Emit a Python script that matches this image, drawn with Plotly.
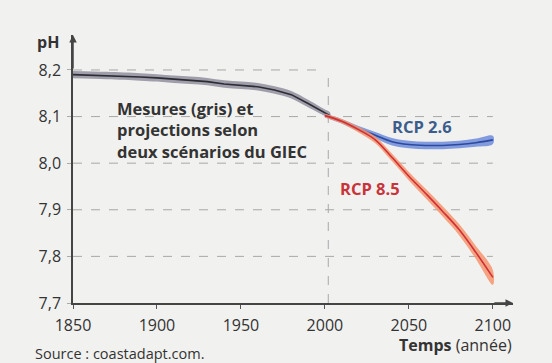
import plotly.graph_objects as go

# ---- data ----
years_obs = [1850, 1870, 1890, 1900, 1910, 1920, 1930, 1940, 1950, 1960, 1970, 1980, 1990, 2000, 2003]
ph_obs = [8.190, 8.188, 8.185, 8.183, 8.180, 8.178, 8.175, 8.170, 8.167, 8.164, 8.157, 8.147, 8.128, 8.108, 8.102]
obs_halfwidth = [0.008, 0.008, 0.008, 0.008, 0.008, 0.008, 0.008, 0.008, 0.008, 0.008, 0.008, 0.008, 0.008, 0.007, 0.007]

years_proj = [2000, 2010, 2020, 2030, 2040, 2050, 2060, 2070, 2080, 2090, 2100]
ph_rcp26 = [8.102, 8.090, 8.074, 8.060, 8.046, 8.040, 8.038, 8.038, 8.040, 8.044, 8.050]
rcp26_halfwidth = [0.004, 0.005, 0.006, 0.007, 0.008, 0.008, 0.008, 0.008, 0.008, 0.009, 0.009]
ph_rcp85 = [8.102, 8.090, 8.072, 8.050, 8.012, 7.972, 7.935, 7.897, 7.857, 7.808, 7.755]
rcp85_halfwidth = [0.004, 0.005, 0.006, 0.007, 0.008, 0.009, 0.010, 0.011, 0.012, 0.014, 0.016]

y_ticks = [7.7, 7.8, 7.9, 8.0, 8.1, 8.2]
y_tick_labels = ["7,7", "7,8", "7,9", "8,0", "8,1", "8,2"]
x_ticks = [1850, 1900, 1950, 2000, 2050, 2100]
x_tick_labels = ["1850", "1900", "1950", "2000", "2050", "2100"]

BG = "#f1f1ef"
FONT = "Open Sans"


def band(x, y, hw, fill, name):
    upper = [a + b for a, b in zip(y, hw)]
    lower = [a - b for a, b in zip(y, hw)]
    return go.Scatter(x=list(x) + list(x)[::-1], y=upper + lower[::-1], fill="toself",
                      fillcolor=fill, line=dict(width=0, shape="spline"), mode="lines",
                      hoverinfo="skip", showlegend=False, name=name)


fig = go.Figure()

# gridlines (dashed)
shapes = []
for t in y_ticks[1:]:
    x_end = 2000 if t == 8.2 else 2100
    shapes.append(dict(type="line", xref="x", yref="y", x0=1850, x1=x_end, y0=t, y1=t,
                       line=dict(color="#a8a8a8", width=1, dash="dash"), layer="below"))
shapes.append(dict(type="line", xref="x", yref="y", x0=2002, x1=2002, y0=7.7, y1=8.2,
                   line=dict(color="#a8a8a8", width=1, dash="dash"), layer="below"))

# observed
fig.add_trace(band(years_obs, ph_obs, obs_halfwidth, "rgba(145,143,158,0.85)", "obs band"))
fig.add_trace(go.Scatter(x=years_obs, y=ph_obs, mode="lines", line=dict(color="#2c2c34", width=1.6),
                         showlegend=False, hoverinfo="skip"))
# RCP 2.6
fig.add_trace(band(years_proj, ph_rcp26, rcp26_halfwidth, "rgba(110,140,220,0.85)", "rcp26 band"))
fig.add_trace(go.Scatter(x=years_proj, y=ph_rcp26, mode="lines", line=dict(color="#2b4a9e", width=1.6, shape="spline"),
                         showlegend=False, hoverinfo="skip"))
# RCP 8.5
fig.add_trace(band(years_proj, ph_rcp85, rcp85_halfwidth, "rgba(244,150,110,0.85)", "rcp85 band"))
fig.add_trace(go.Scatter(x=years_proj, y=ph_rcp85, mode="lines", line=dict(color="#d12f36", width=1.6, shape="spline"),
                         showlegend=False, hoverinfo="skip"))

annotations = [
    # axis arrows
    dict(x=2112, y=7.7, ax=2100, ay=7.7, xref="x", yref="y", axref="x", ayref="y",
         showarrow=True, arrowhead=2, arrowsize=1, arrowwidth=1.5, arrowcolor="#444", text=""),
    dict(x=1850, y=8.275, ax=1850, ay=8.2, xref="x", yref="y", axref="x", ayref="y",
         showarrow=True, arrowhead=2, arrowsize=1, arrowwidth=1.5, arrowcolor="#444", text=""),
    dict(x=48, y=42, text="<b>pH</b>", showarrow=False, xanchor="center",
         font=dict(size=16, color="#333")),
    dict(x=115, y=130, text="<b>Mesures (gris) et<br>projections selon<br>deux scénarios du GIEC</b>",
         showarrow=False, align="left", xanchor="left",
         font=dict(size=16.5, color="#333")),
    dict(x=422, y=126, text="<b>RCP 2.6</b>", showarrow=False, xanchor="center",
         font=dict(size=16.5, color="#3c5d8c")),
    dict(x=370, y=188, text="<b>RCP 8.5</b>", showarrow=False, xanchor="center",
         font=dict(size=16.5, color="#c8343a")),
    dict(x=33, y=353, text="Source : coastadapt.com.", showarrow=False, xanchor="left",
         font=dict(size=14.5, color="#333")),
    dict(x=514, y=345, text="<b>Temps</b> (année)", showarrow=False, xanchor="right",
         font=dict(size=16, color="#333")),
]
# convert pixel-positioned annotations to paper coords
W, H = 552, 363
L, R, T, B = 73, 39, 35, 60
pw, ph_ = W - L - R, H - T - B
for a in annotations:
    if a.get("xref") is None:
        a["xref"] = "paper"
        a["yref"] = "paper"
        a["x"] = (a["x"] - L) / pw
        a["y"] = 1 - (a["y"] - T) / ph_
        a["yanchor"] = "middle"

fig.update_layout(
    width=W, height=H,
    margin=dict(l=L, r=R, t=T, b=B, autoexpand=False),
    paper_bgcolor=BG, plot_bgcolor=BG,
    font=dict(family=FONT, color="#333"),
    shapes=shapes, annotations=annotations,
    xaxis=dict(range=[1850, 2112], tickvals=x_ticks, ticktext=x_tick_labels,
               showgrid=False, zeroline=False, showline=True, linecolor="#444", linewidth=1.5,
               ticks="outside", ticklen=4, tickcolor="#555", tickfont=dict(size=16, color="#333"),
               ticklabelstandoff=3, fixedrange=True, automargin=False),
    yaxis=dict(range=[7.7, 8.275], tickvals=y_ticks, ticktext=y_tick_labels,
               showgrid=False, zeroline=False, showline=True, linecolor="#444", linewidth=1.5,
               ticks="outside", ticklen=4, tickcolor="#aaa", tickfont=dict(size=16, color="#333"),
               ticklabelstandoff=3, fixedrange=True, automargin=False),
)

fig.write_html("out.html", config={"displayModeBar": False},
               post_script="document.body.style.margin='0';document.body.style.background='%s';" % BG)
